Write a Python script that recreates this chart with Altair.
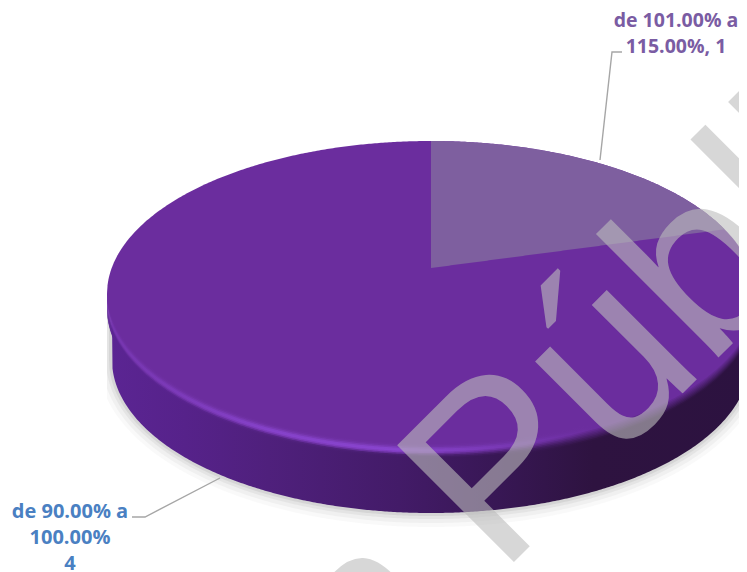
import numpy as np
import pandas as pd
import altair as alt

# ---- chart values ----
categories = ["de 90.00% a 100.00%", "de 101.00% a 115.00%"]
values = [4, 1]
label_purple = ["de 101.00% a", "115.00%, 1"]
label_blue = ["de 90.00% a", "100.00%", "4"]
watermark_left = "Versión"
watermark_right = "Pública"

# ---- geometry and style ----
W, H = 739, 572
CX, CY, RX, RY = 431, 294, 324, 153
CY2, RX2 = 360, 319
TIP = (431, 268)
WEDGE_END_DEG = 65
TOP = "#6B2D9E"
WEDGE = "#7E5F9F"
HI = "#8A45D0"
X_FR = [0, .12, .25, .45, .6, .75, 1]
SIDE = ["#5B2593", "#56228A", "#4F207C", "#431B68", "#381755", "#2E1340", "#2C1240"]
HI_W = [.35, .6, .9, 1, .5, 0, 0]
TRANS = [(3, 6), (3, 6), (3, 6), (3, 6), (2, 8), (0, 11), (0, 11)]

sx = alt.Scale(domain=[8, W], range=[0, W - 8], nice=False, zero=False)
sy = alt.Scale(domain=[8, H], range=[0, H - 8], nice=False, zero=False)
X = alt.X("x:Q", scale=sx, axis=None)
Y = alt.Y("y:Q", scale=sy, axis=None)


def lower(x, cy=CY, rx=RX, ry=RY):
    t = np.clip((x - CX) / rx, -1, 1)
    return cy + ry * np.sqrt(1 - t * t)


def upper(x):
    t = np.clip((x - CX) / RX, -1, 1)
    return CY - RY * np.sqrt(1 - t * t)


def grad(stops):
    return alt.Gradient(
        gradient="linear", x1=0, x2=1, y1=0, y2=0,
        stops=[alt.GradientStop(offset=float(o), color=c) for o, c in stops],
    )


def rgb(h):
    return np.array([int(h[i:i + 2], 16) for i in (1, 3, 5)], float)


def mix(a, b, t):
    c = rgb(a) * (1 - t) + rgb(b) * t
    return "#%02x%02x%02x" % tuple(int(round(v)) for v in c)


def area(df, **kw):
    return alt.Chart(df).mark_area(clip=True, **kw).encode(X, Y, y2=alt.Y2("y2:Q"))


xs = np.concatenate([np.linspace(CX - RX, CX - RX + 12, 25), np.arange(CX - RX + 12, CX + RX - 12, 2.0),
                     np.linspace(CX + RX - 12, CX + RX, 25)])
layers = []

# soft shadow
for grow, op in [(14, .05), (10, .07), (6, .10), (3, .14)]:
    sh = pd.DataFrame({"x": xs})
    sh = sh[(sh.x >= CX - RX2 - grow) & (sh.x <= CX + RX2 + grow)]
    sh["y"] = CY
    sh["y2"] = lower(sh.x.values, CY2, RX2 + grow, RY + grow)
    layers.append(area(sh, color="#808080", opacity=op))

# side wall
side = pd.DataFrame({"x": xs})
side["y"] = CY
side["y2"] = np.maximum(lower(xs), np.where(np.abs(xs - CX) < RX2, lower(xs, CY2, RX2, RY), 0))
layers.append(area(side, color=grad(list(zip(X_FR, SIDE)))))

# top face
top = pd.DataFrame({"x": xs, "y": upper(xs), "y2": lower(xs)})
layers.append(area(top, color=TOP))

# rim: shading along the lower edge of the top face, drawn bottom-up so seams stay hidden
for off in np.arange(12, -7.5, -1.5):
    stops = []
    for f, s, w, (a, b) in zip(X_FR, SIDE, HI_W, TRANS):
        t = np.clip((off - a) / (b - a), 0, 1)
        c = mix(TOP, s, t)
        h = np.exp(-((off - 1) / 3.2) ** 2) * w
        stops.append((f, mix(c, HI, h)))
    band = pd.DataFrame({"x": xs})
    band["y"] = lower(xs) + off
    band["y2"] = lower(xs) + off + 3
    layers.append(area(band, color=grad(stops)))

# light slice (the 1 of 5)
end = np.radians(WEDGE_END_DEG)
ex, ey = CX + RX * np.sin(end), CY - RY * np.cos(end)
wx = np.arange(TIP[0], ex, 2.0)
wx = np.append(wx, ex)
wedge = pd.DataFrame({"x": wx, "y": upper(wx),
                      "y2": TIP[1] + (ey - TIP[1]) * (wx - TIP[0]) / (ex - TIP[0])})
layers.append(area(wedge, color=WEDGE))

# watermark
for txt, al, px, py in [(watermark_right, "left", 500, 576), (watermark_left, "right", 465, 624)]:
    layers.append(
        alt.Chart(pd.DataFrame({"x": [px], "y": [py], "t": [txt]}))
        .mark_text(angle=315, align=al, baseline="alphabetic", font="Liberation Sans", fontSize=240,
                   color="#BDBDBD", opacity=.6, clip=True)
        .encode(X, Y, text="t:N")
    )

# leader lines
for xx, yy in [([600, 612, 622], [160, 52, 52]), ([220, 145, 132], [478, 517, 517])]:
    layers.append(
        alt.Chart(pd.DataFrame({"x": xx, "y": yy, "o": range(len(xx))}))
        .mark_line(color="#A6A6A6", strokeWidth=1.4)
        .encode(X, Y, order="o:Q")
    )

# labels
for lines, col, px, ys, fs in [(label_purple, "#7A5CA3", 676, [27, 53], 19.5),
                               (label_blue, "#4A80C2", 70, [518, 544, 570], 20)]:
    layers.append(
        alt.Chart(pd.DataFrame({"x": [px] * len(lines), "y": ys, "t": lines}))
        .mark_text(align="center", baseline="alphabetic", font="Open Sans", fontWeight=700, fontSize=fs, color=col)
        .encode(X, Y, text="t:N")
    )

chart = (
    alt.layer(*layers)
    .properties(width=W - 8, height=H - 8, padding=0, autosize=alt.AutoSizeParams(type="none"),
                background="white")
    .configure_view(stroke=None)
)
chart.save("out.html", embed_options={"renderer": "svg", "actions": False})
